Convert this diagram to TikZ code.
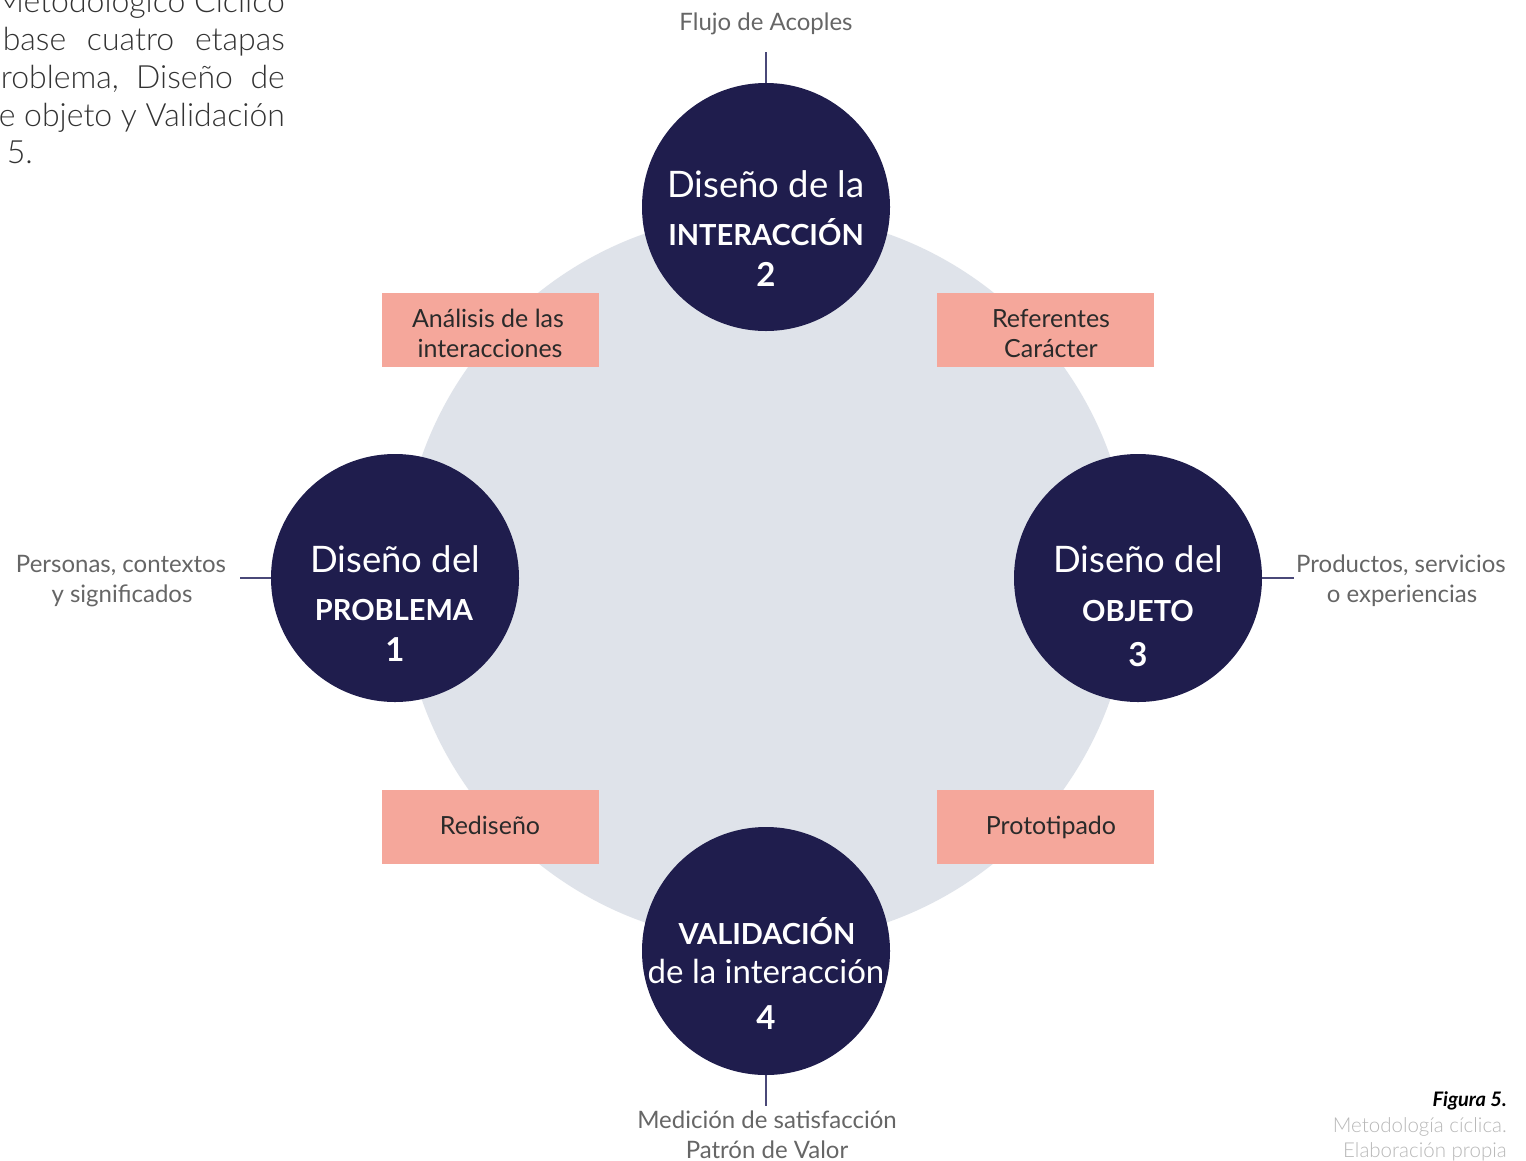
\documentclass[tikz,border=0pt]{standalone}
\usepackage{fontspec}
\setmainfont{Lato}
\newfontfamily\lightfont{Lato Light}
\definecolor{navy}{HTML}{1F1D4D}
\definecolor{ringgray}{HTML}{DFE3EA}
\definecolor{salmon}{HTML}{F5A79B}
\definecolor{labelgray}{HTML}{666666}
\definecolor{boxtext}{HTML}{2A2A2A}
\definecolor{paratext}{HTML}{333333}
\definecolor{captiongray}{HTML}{B8B8B8}
\definecolor{linkcolor}{HTML}{4A4878}
\begin{document}
\begin{tikzpicture}[x=1pt,y=-1pt,
  stage/.style={circle,fill=navy,draw=none,minimum size=248pt,inner sep=0pt},
  stagetext/.style={text=white,inner sep=0pt,anchor=base},
  stagetitle/.style={stagetext,font=\fontsize{36.5}{40}\selectfont},
  stagecaps/.style={stagetext,font=\bfseries\fontsize{29}{32}\selectfont},
  stagenum/.style={stagetext,font=\bfseries\fontsize{33}{36}\selectfont},
  taskbox/.style={rectangle,fill=salmon,draw=none,minimum width=217pt,minimum height=74pt,inner sep=0pt},
  tasktext/.style={text=boxtext,inner sep=0pt,anchor=base,font=\fontsize{25}{28}\selectfont},
  outtext/.style={text=labelgray,inner sep=0pt,anchor=base,font=\fontsize{24}{27}\selectfont},
  para/.style={text=paratext,inner sep=0pt,font=\lightfont\fontsize{32}{38}\selectfont},
  link/.style={draw=linkcolor,line width=2pt}]
\useasboundingbox (0,0) rectangle (1526,1160);
\clip (0,0) rectangle (1526,1160);
\fill[white] (0,0) rectangle (1526,1160);

% background disc of the cycle
\node[circle,fill=ringgray,minimum size=730pt,inner sep=0pt] (ring) at (766,578) {};

% task boxes between stages
\node[taskbox] (b12) at (490,330) {};
\node[taskbox] (b23) at (1045.5,330) {};
\node[taskbox] (b41) at (490,827) {};
\node[taskbox] (b34) at (1045.5,827) {};
\node[tasktext] at (488,327) {Análisis de las};
\node[tasktext] at (490,357) {interacciones};
\node[tasktext] at (1051,327) {Referentes};
\node[tasktext] at (1051,357) {Carácter};
\node[tasktext] at (490,834) {Rediseño};
\node[tasktext] at (1051,834) {Prototipado};

% stage discs
\node[stage] (s2) at (766,207) {};
\node[stage] (s1) at (395,578) {};
\node[stage] (s3) at (1138,578) {};
\node[stage] (s4) at (766,951) {};

% stage 2
\node[stagetitle] at (766,197) {Diseño de la};
\node[stagecaps] at (766,245) {INTERACCIÓN};
\node[stagenum] at (766,286) {2};
% stage 1
\node[stagetitle] at (395,572) {Diseño del};
\node[stagecaps] at (394,620) {PROBLEMA};
\node[stagenum] at (395,661) {1};
% stage 3
\node[stagetitle] at (1138,572) {Diseño del};
\node[stagecaps] at (1138,621) {OBJETO};
\node[stagenum] at (1138,666) {3};
% stage 4
\node[stagecaps] at (767,944) {VALIDACIÓN};
\node[stagetext,font=\fontsize{33}{36}\selectfont] at (766,983) {de la interacción};
\node[stagenum] at (766,1029) {4};

% outputs of each stage
\coordinate (o2) at (766,52);
\coordinate (o1) at (240,578);
\coordinate (o3) at (1294,578);
\coordinate (o4) at (766,1106);
\draw[link] (s2.north) -- (o2);
\draw[link] (s1.west) -- (o1);
\draw[link] (s3.east) -- (o3);
\draw[link] (s4.south) -- (o4);

\node[outtext] (t2) at (766,30) {Flujo de Acoples};
\node[outtext] (t1a) at (121,572) {Personas, contextos};
\node[outtext] (t1b) at (122,602) {y significados};
\node[outtext] (t3a) at (1401,572) {Productos, servicios};
\node[outtext] (t3b) at (1402,602) {o experiencias};
\node[outtext] (t4a) at (767,1128) {Medición de satisfacción};
\node[outtext] (t4b) at (767,1158) {Patrón de Valor};

% running text of the page
\node[para,anchor=base east] (p1) at (285,12) {Metodológico Cíclico};
\node[para,anchor=base east] (p2) at (285,50) {\hbox to 282pt{base\hfill cuatro\hfill etapas}};
\node[para,anchor=base east] (p3) at (285,88) {\hbox to 284pt{roblema,\hfill Diseño\hfill de}};
\node[para,anchor=base east] (p4) at (285,126) {\hbox to 286pt{e\hfill objeto\hfill y\hfill Validación}};
\node[para,anchor=base east] (p5) at (33,163) {a 5.};

% figure caption
\node[anchor=base east,inner sep=0pt,text=black,font=\bfseries\itshape\fontsize{20}{24}\selectfont] (c1) at (1507,1106) {Figura 5.};
\node[anchor=base east,inner sep=0pt,text=captiongray,font=\lightfont\fontsize{20.5}{24}\selectfont] (c2) at (1507,1132) {Metodología cíclica.};
\node[anchor=base east,inner sep=0pt,text=captiongray,font=\lightfont\fontsize{20.5}{24}\selectfont] (c3) at (1507,1157) {Elaboración propia};
\end{tikzpicture}
\end{document}
